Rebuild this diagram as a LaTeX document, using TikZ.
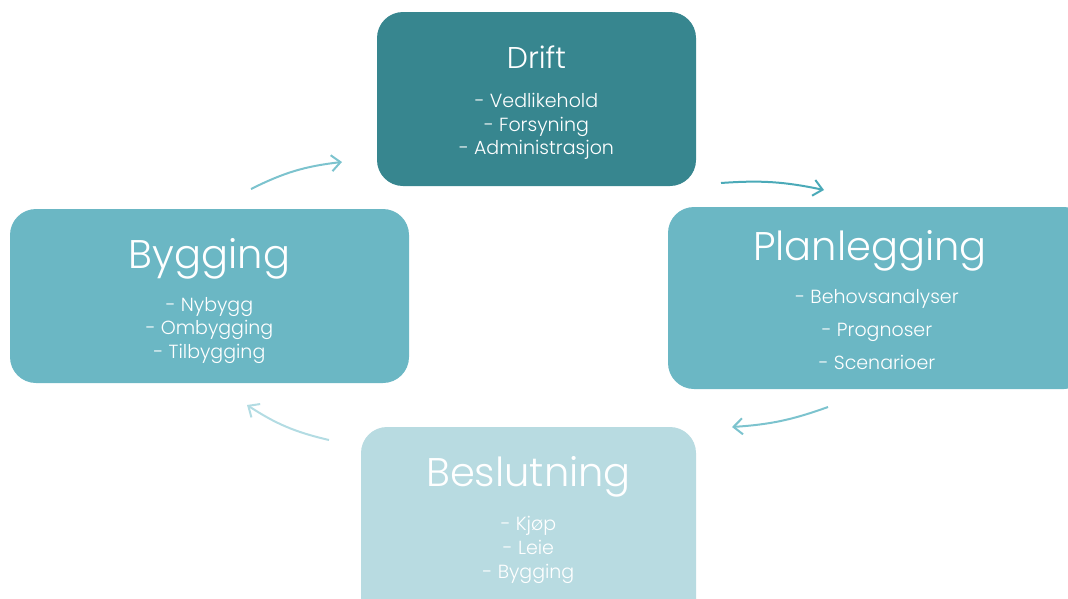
\documentclass[tikz,border=0pt]{standalone}
\usepackage{fontspec}
\setmainfont{Poppins Light}
\usetikzlibrary{arrows.meta}
\definecolor{dark}{HTML}{37868F}
\definecolor{mid}{HTML}{6BB7C4}
\definecolor{light}{HTML}{B8DBE1}
\definecolor{arrA}{HTML}{7CC3CE}
\definecolor{arrB}{HTML}{4BAAB8}
\definecolor{arrC}{HTML}{B3DCE3}
\tikzset{
  box/.style={rounded corners=26pt, draw=none},
  ttl/.style={text=white, anchor=base, font=\fontsize{40}{44}\selectfont},
  itm/.style={text=white, anchor=base, font=\fontsize{19}{22}\selectfont},
  arr/.style={line width=2pt, -{Straight Barb[length=9pt,width=16pt,line width=2pt]}},
}
\begin{document}
\begin{tikzpicture}[x=1pt,y=-1pt]
\useasboundingbox (0,0) rectangle (1068,598);
% boxes
\path[box, fill=dark] (377,12) rectangle (696,186);
\path[box, fill=mid] (668,207) rectangle (1090,389);
\path[box, fill=mid] (10,209) rectangle (409,383);
\path[box, fill=light] (361,427) rectangle (696,630);
% Drift
\node[ttl, font=\fontsize{30}{34}\selectfont] (d0) at (536.5,68) {Drift};
\node[itm] (d1) at (536.5,107) {- Vedlikehold};
\node[itm] (d2) at (536.5,131) {- Forsyning};
\node[itm] (d3) at (536.5,154) {- Administrasjon};
% Planlegging
\node[ttl] (p0) at (870,260) {Planlegging};
\node[itm] (p1) at (877,303) {- Behovsanalyser};
\node[itm] (p2) at (877,336) {- Prognoser};
\node[itm] (p3) at (877,369) {- Scenarioer};
% Bygging
\node[ttl] (b0) at (209.5,268) {Bygging};
\node[itm] (b1) at (209.5,311) {- Nybygg};
\node[itm] (b2) at (209.5,334) {- Ombygging};
\node[itm] (b3) at (209.5,358) {- Tilbygging};
% Beslutning
\node[ttl] (s0) at (528.5,486) {Beslutning};
\node[itm] (s1) at (528.5,530) {- Kjøp};
\node[itm] (s2) at (528.5,554) {- Leie};
\node[itm] (s3) at (528.5,578) {- Bygging};
% arrow endpoints
\coordinate (a1s) at (251,189); \coordinate (a1e) at (342,162);
\coordinate (a2s) at (721,183); \coordinate (a2e) at (824,190);
\coordinate (a3s) at (828,407); \coordinate (a3e) at (732,427);
\coordinate (a4s) at (329,440); \coordinate (a4e) at (247,405);
\draw[arr, draw=arrA] (a1s) to[bend left=10] (a1e);
\draw[arr, draw=arrB] (a2s) to[bend left=8] (a2e);
\draw[arr, draw=arrA] (a3s) to[bend left=8] (a3e);
\draw[arr, draw=arrC] (a4s) to[bend left=10] (a4e);
\end{tikzpicture}
\end{document}
